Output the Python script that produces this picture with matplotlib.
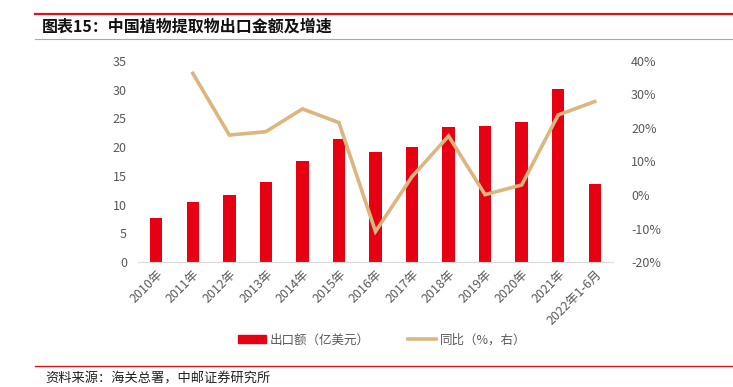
import matplotlib
matplotlib.use("Agg")
import matplotlib.pyplot as plt
from matplotlib.lines import Line2D
from matplotlib.patches import Patch
import numpy as np

plt.rcParams['font.family'] = ['Noto Sans CJK SC', 'DejaVu Sans']

categories = ['2010年', '2011年', '2012年', '2013年', '2014年', '2015年', '2016年',
              '2017年', '2018年', '2019年', '2020年', '2021年', '2022年1-6月']
export_value = [7.6, 10.4, 11.7, 14.0, 17.6, 21.5, 19.2, 20.0, 23.5, 23.7, 24.4, 30.1, 13.6]
yoy = [None, 36.3, 17.9, 18.9, 25.7, 21.6, -10.9, 5.5, 17.6, 0.1, 3.0, 23.9, 27.9]

bar_color = '#E60012'
line_color = '#DDB57E'
tick_color = '#595959'

W, H = 733, 387
fig = plt.figure(figsize=(W / 100, H / 100), dpi=100)

# plot area in pixels: x 138-613, y 61-262
ax = fig.add_axes([138 / W, 1 - 262 / H, (613 - 138) / W, (262 - 61) / H])
x = np.arange(len(categories))
ax.bar(x, export_value, width=0.34, color=bar_color, zorder=2)
ax.set_xlim(-0.5, len(categories) - 0.5)
ax.set_ylim(0, 35)
ax.set_yticks(range(0, 36, 5))
ax.set_xticks(x)
ax.set_xticklabels(categories, rotation=45, ha='right', rotation_mode='anchor')
for s in ['top', 'right', 'left']:
    ax.spines[s].set_visible(False)
ax.spines['bottom'].set_color('#D9D9D9')
ax.tick_params(axis='both', length=0, colors=tick_color, labelsize=9)
ax.tick_params(axis='y', pad=8)
ax.tick_params(axis='x', pad=4)

ax2 = ax.twinx()
xs = [i for i, v in enumerate(yoy) if v is not None]
ys = [v for v in yoy if v is not None]
ax2.plot(xs, ys, color=line_color, lw=2.6, zorder=3, solid_joinstyle='miter')
ax2.set_ylim(-20, 40)
ax2.set_yticks(range(-20, 41, 10))
ax2.set_yticklabels([f'{v}%' for v in range(-20, 41, 10)])
for s in ax2.spines.values():
    s.set_visible(False)
ax2.tick_params(axis='y', length=0, colors=tick_color, labelsize=9, pad=13)

handles = [Patch(color=bar_color), Line2D([0], [0], color=line_color, lw=2.6)]
labels = ['出口额（亿美元）', '同比（%，右）']
fig.legend(handles, labels, loc='center', bbox_to_anchor=(382 / W, 1 - 340 / H),
           ncol=2, frameon=False, fontsize=9, handlelength=2.3, handleheight=0.6,
           columnspacing=3.0, handletextpad=0.3, labelcolor=tick_color)

# header / footer decorations
fig.add_artist(Line2D([35 / W, 1], [1 - 14 / H] * 2, color='#D7141A', lw=1.6))
fig.add_artist(Line2D([35 / W, 1], [1 - 39 / H] * 2, color='#E89090', lw=0.8))
fig.add_artist(Line2D([35 / W, 1], [1 - 366 / H] * 2, color='#D7141A', lw=1.0))
fig.text(42 / W, 1 - 27 / H, '图表15：中国植物提取物出口金额及增速', fontsize=11.5,
         fontweight='bold', va='center', ha='left', color='#111111')
fig.text(45 / W, 2 / H, '资料来源：海关总署，中邮证券研究所', fontsize=9.5,
         va='bottom', ha='left', color='#222222')

fig.savefig('out.png', dpi=100)
